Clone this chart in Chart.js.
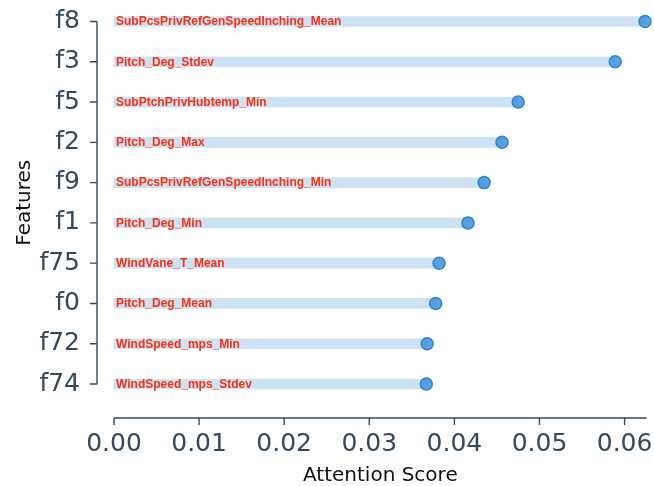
<!DOCTYPE html>
<html>
<head>
<meta charset="utf-8">
<script src="https://cdn.jsdelivr.net/npm/chart.js@4.4.1/dist/chart.umd.min.js"></script>
<style>
  html, body { margin: 0; padding: 0; background: #ffffff; }
  #wrap { width: 654px; height: 486px; position: relative; }
</style>
</head>
<body>
<div id="wrap"><canvas id="c" width="654" height="486"></canvas></div>
<script>
// ---- data ----
const featureIds = ['f8', 'f3', 'f5', 'f2', 'f9', 'f1', 'f75', 'f0', 'f72', 'f74'];
const featureNames = [
  'SubPcsPrivRefGenSpeedInching_Mean',
  'Pitch_Deg_Stdev',
  'SubPtchPrivHubtemp_Min',
  'Pitch_Deg_Max',
  'SubPcsPrivRefGenSpeedInching_Min',
  'Pitch_Deg_Min',
  'WindVane_T_Mean',
  'Pitch_Deg_Mean',
  'WindSpeed_mps_Min',
  'WindSpeed_mps_Stdev'
];
const attentionScores = [0.0624, 0.0589, 0.0475, 0.0456, 0.0435, 0.0416, 0.0382, 0.0378, 0.0368, 0.0367];
const xTickValues = [0.00, 0.01, 0.02, 0.03, 0.04, 0.05, 0.06];

const SLATE = '#34495e';
const AREA = { left: 114, top: 21.5, right: 646.7, bottom: 384 };

const fixLayout = {
  id: 'fixLayout',
  afterLayout(chart) {
    const ca = chart.chartArea;
    ca.left = AREA.left; ca.top = AREA.top; ca.right = AREA.right; ca.bottom = AREA.bottom;
    ca.width = AREA.right - AREA.left; ca.height = AREA.bottom - AREA.top;
    const xs = chart.scales.x, ys = chart.scales.y;
    xs.left = AREA.left; xs.right = AREA.right; xs.width = AREA.right - AREA.left;
    xs.top = AREA.bottom; xs.bottom = chart.height; xs.height = chart.height - AREA.bottom;
    ys.left = 0; ys.right = AREA.left; ys.width = AREA.left;
    ys.top = AREA.top; ys.bottom = AREA.bottom; ys.height = AREA.bottom - AREA.top;
    xs.configure(); ys.configure();
  }
};

const spinePlugin = {
  id: 'spines',
  afterDraw(chart) {
    const ctx = chart.ctx;
    const xs = chart.scales.x, ys = chart.scales.y, ca = chart.chartArea;
    ctx.save();
    ctx.strokeStyle = SLATE;
    ctx.lineWidth = 1.4;
    const sx = ca.left - 17;
    const yTop = ys.getPixelForValue(0);
    const yBot = ys.getPixelForValue(featureIds.length - 1);
    ctx.beginPath();
    ctx.moveTo(sx, yTop); ctx.lineTo(sx, yBot);
    featureIds.forEach((_, i) => {
      const py = ys.getPixelForValue(i);
      ctx.moveTo(sx - 7, py); ctx.lineTo(sx, py);
    });
    ctx.stroke();
    const sy = ca.bottom + 34;
    ctx.beginPath();
    ctx.moveTo(xs.getPixelForValue(0), sy); ctx.lineTo(ca.right, sy);
    xTickValues.forEach(v => {
      const px = xs.getPixelForValue(v);
      ctx.moveTo(px, sy); ctx.lineTo(px, sy + 7);
    });
    ctx.stroke();
    ctx.restore();
  },
  afterDatasetsDraw(chart) {
    const ctx = chart.ctx;
    const xs = chart.scales.x, ys = chart.scales.y;
    ctx.save();
    ctx.fillStyle = '#ff3010';
    ctx.font = 'bold 12px "Liberation Sans", Arial, sans-serif';
    ctx.textAlign = 'left';
    ctx.textBaseline = 'middle';
    featureNames.forEach((name, i) => {
      ctx.fillText(name, xs.getPixelForValue(0) + 2, ys.getPixelForValue(i) + 0.5);
    });
    ctx.restore();
  }
};

new Chart(document.getElementById('c'), {
  type: 'bar',
  data: {
    labels: featureIds,
    datasets: [
      {
        type: 'line',
        indexAxis: 'y',
        data: attentionScores,
        showLine: false,
        pointRadius: 6,
        pointHoverRadius: 6,
        pointBackgroundColor: 'rgba(62,146,220,0.85)',
        pointBorderColor: '#2f83d0',
        pointBorderWidth: 1.5,
        clip: false,
        order: 1
      },
      {
        type: 'bar',
        data: attentionScores,
        backgroundColor: '#cde3f4',
        borderWidth: 0,
        barThickness: 10,
        clip: false,
        order: 2
      }
    ]
  },
  options: {
    indexAxis: 'y',
    responsive: false,
    animation: false,
    layout: { padding: { top: 21.5, right: 7.3, bottom: 0, left: 0 } },
    plugins: { legend: { display: false }, tooltip: { enabled: false } },
    scales: {
      x: {
        type: 'linear',
        min: 0,
        max: 0.0626,
        afterBuildTicks(scale) { scale.ticks = xTickValues.map(v => ({ value: v })); },
        grid: { display: false, drawTicks: false },
        border: { display: false },
        ticks: {
          autoSkip: false,
          padding: 45,
          color: SLATE,
          font: { family: '"DejaVu Sans"', size: 25 },
          maxRotation: 0,
          callback: v => Number(v).toFixed(2)
        },
        title: {
          display: true,
          text: 'Attention Score',
          color: '#111111',
          font: { family: '"DejaVu Sans"', size: 20 },
          padding: { top: 0, bottom: -1.5 }
        }
      },
      y: {
        type: 'category',
        offset: false,
        grid: { display: false, drawTicks: false },
        border: { display: false },
        ticks: {
          autoSkip: false,
          padding: 34,
          color: SLATE,
          font: { family: '"DejaVu Sans"', size: 25 }
        },
        title: {
          display: true,
          text: 'Features',
          color: '#111111',
          font: { family: '"DejaVu Sans"', size: 20 },
          padding: { top: 13, bottom: 0 }
        }
      }
    }
  },
  plugins: [fixLayout, spinePlugin]
});
</script>
</body>
</html>
